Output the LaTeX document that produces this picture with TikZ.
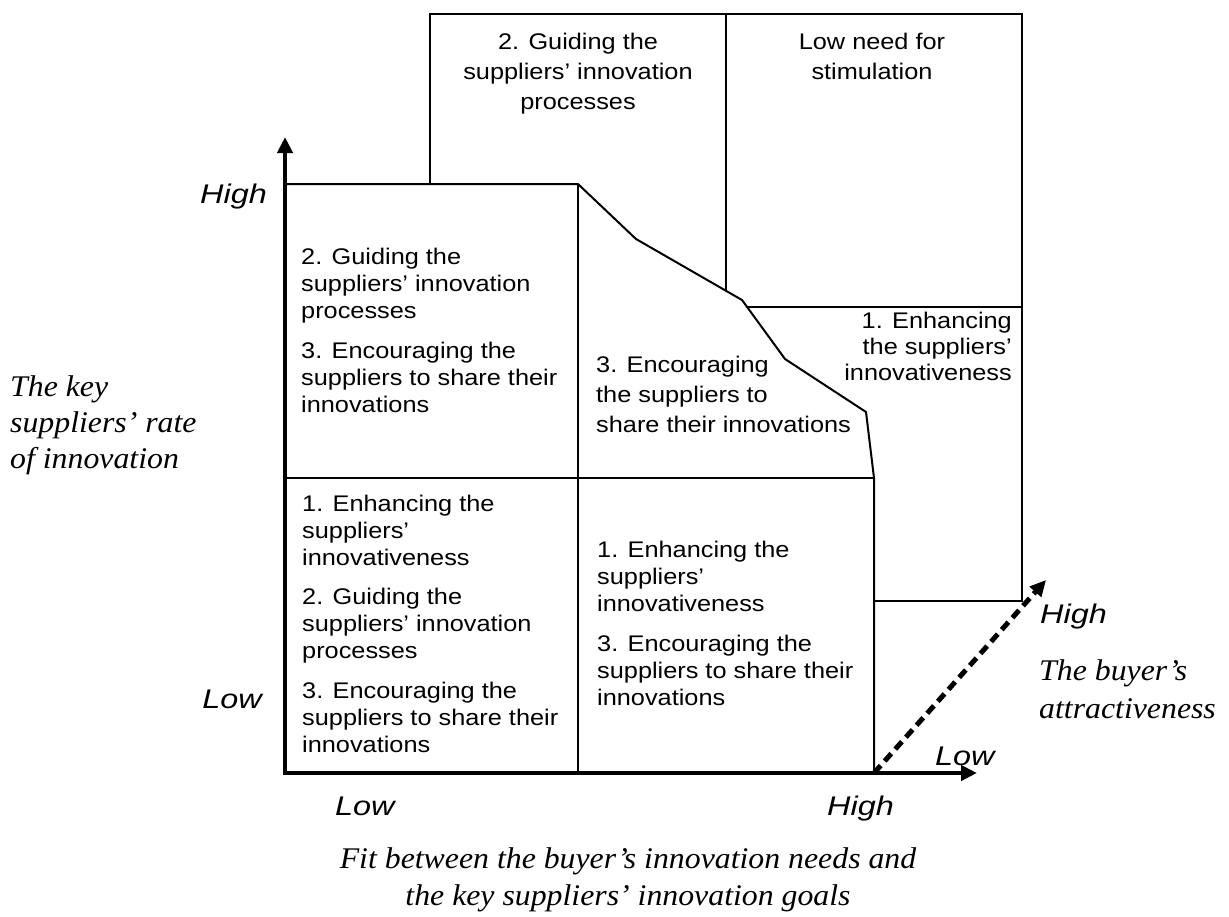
\documentclass[tikz,border=0pt]{standalone}
\usepackage{fontspec}
\usetikzlibrary{arrows.meta}
\newfontfamily\arialfont{Liberation Sans}[FakeStretch=1.12]
\newfontfamily\labfont{Liberation Sans}[FakeStretch=1.2]
\newfontfamily\timesfont{Liberation Serif}[FakeStretch=1.06]
\begin{document}
\begin{tikzpicture}[x=1pt,y=-1pt,
  thinline/.style={line width=2pt, line join=miter},
  axisline/.style={line width=4.2pt, line join=miter, {Triangle[length=16pt,width=15pt]}-{Triangle[length=16pt,width=15pt]}},
  dashline/.style={line width=5pt, dash pattern=on 10pt off 6pt, -{Triangle[length=16pt,width=15pt]}},
  body/.style={font=\arialfont\fontsize{22.6}{27}\selectfont, inner sep=0pt, align=left, anchor=base west},
  lab/.style={font=\labfont\itshape\fontsize{27}{30}\selectfont, inner sep=0pt},
  ttl/.style={font=\timesfont\itshape\fontsize{30}{36}\selectfont, inner sep=0pt}]
\useasboundingbox (0,0) rectangle (1229,916);
% coordinates
\coordinate (O) at (285,773);
\coordinate (Ytip) at (285,137);
\coordinate (Xtip) at (977,773);
\coordinate (Dtip) at (1046,580);
\coordinate (TL) at (285,184);
\coordinate (A1) at (578,184);
\coordinate (A2) at (578,773);
\coordinate (ML) at (285,478);
\coordinate (R1) at (874,478);
\coordinate (RB) at (874,773);
\coordinate (P1) at (636,239);
\coordinate (P2) at (742,300);
\coordinate (P3) at (785,359);
\coordinate (P4) at (866,412);
\coordinate (B1) at (430,184);
\coordinate (B2) at (430,14);
\coordinate (B3) at (1022,14);
\coordinate (B4) at (1022,601);
\coordinate (B5) at (874,601);
\coordinate (D1) at (726,14);
\coordinate (D2) at (726,291);
\coordinate (H1) at (747,307);
\coordinate (H2) at (1022,307);
% back block
\draw[thinline] (B1) -- (B2) -- (B3) -- (B4) -- (B5);
\draw[thinline] (D1) -- (D2);
\draw[thinline] (H1) -- (H2);
% front block
\draw[thinline] (TL) -- (A1) -- (P1) -- (P2) -- (P3) -- (P4) -- (R1) -- (RB);
\draw[thinline] (A1) -- (A2);
\draw[thinline] (ML) -- (R1);
% axes
\draw[axisline] (Ytip) -- (O) -- (Xtip);
\draw[dashline] (RB) -- (Dtip);
% texts (anchored at the baseline of their last line)
\node[body] (tl) at (301,412) {2. Guiding the\\suppliers’ innovation\\processes\\[13pt]3. Encouraging the\\suppliers to share their\\innovations};
\node[body] (bl) at (302,752) {1. Enhancing the\\suppliers’\\innovativeness\\[12pt]2. Guiding the\\suppliers’ innovation\\processes\\[13pt]3. Encouraging the\\suppliers to share their\\innovations};
\node[body] (bm) at (597,705) {1. Enhancing the\\suppliers’\\innovativeness\\[13pt]3. Encouraging the\\suppliers to share their\\innovations};
\node[body, font=\arialfont\fontsize{22.6}{30}\selectfont] (mid) at (596,432) {3. Encouraging\\the suppliers to\\share their innovations};
\node[body, align=right, anchor=base east, font=\arialfont\fontsize{22.6}{26}\selectfont] (rt) at (1012,380) {1. Enhancing\\the suppliers’\\innovativeness};
\node[body, align=center, anchor=base, font=\arialfont\fontsize{22.6}{30}\selectfont] (tb1) at (578,109) {2. Guiding the\\suppliers’ innovation\\processes};
\node[body, align=center, anchor=base, font=\arialfont\fontsize{22.6}{30}\selectfont] (tb2) at (872,79) {Low need for\\stimulation};
% axis value labels
\node[lab, anchor=base east] (yh) at (267,203) {High};
\node[lab, anchor=base east] (yl) at (262,708) {Low};
\node[lab, anchor=base west] (xl) at (335,815) {Low};
\node[lab, anchor=base west] (xh) at (827,815) {High};
\node[lab, anchor=base west] (zh) at (1040,623) {High};
\node[lab, anchor=base west] (zl) at (935,765) {Low};
% axis titles
\node[ttl, align=left, anchor=base west] (yt) at (10,468) {The key\\suppliers’ rate\\of innovation};
\node[ttl, align=left, anchor=base west, font=\timesfont\itshape\fontsize{30}{38}\selectfont] (zt) at (1039,718) {The buyer’s\\attractiveness};
\node[ttl, align=center, anchor=base, font=\timesfont\itshape\fontsize{30}{37}\selectfont] (xt) at (628,905) {Fit between the buyer’s innovation needs and\\the key suppliers’ innovation goals};
\end{tikzpicture}
\end{document}
